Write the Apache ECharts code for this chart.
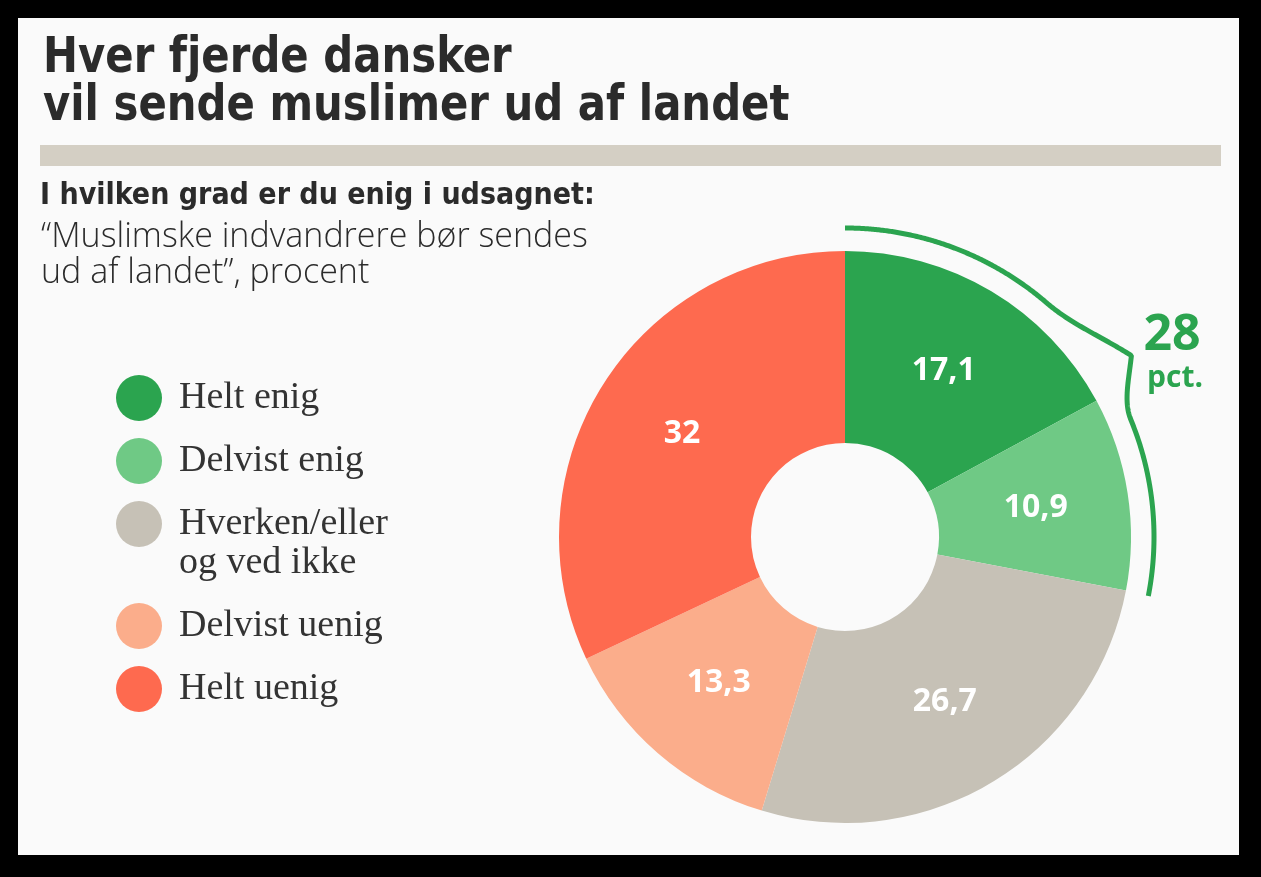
<!DOCTYPE html>
<html>
<head>
    <meta charset="utf-8">
    <title>Hver fjerde dansker</title>
    <script src="https://cdn.jsdelivr.net/npm/echarts@6.0.0/dist/echarts.min.js"></script>
    <style>
        html, body { margin: 0; padding: 0; background: #000; }
        #main { width: 1261px; height: 877px; }
    </style>
</head>
<body>
<div id="main"></div>
<script>
    // data
    var categories = ['Helt enig', 'Delvist enig', 'Hverken/eller\nog ved ikke', 'Delvist uenig', 'Helt uenig'];
    var values = [17.1, 10.9, 26.7, 13.3, 32];
    var colors = ['#2ba44f', '#6fc985', '#c6c1b6', '#fbad8b', '#fe6a4f'];
    var agreeCount = 2; // first two slices are the "enig" group

    var cx = 845, cy = 537, rIn = 94, rOut = 286;

    function fmt(v) {
        return String(v).replace('.', ',');
    }

    // curly bracket around the agreeing slices, built from the data
    var total = values.reduce(function (a, b) { return a + b; }, 0);
    var agreeSum = 0;
    for (var i = 0; i < agreeCount; i++) agreeSum += values[i];
    var endDeg = agreeSum / total * 360;
    var tipDeg = endDeg * 0.572;
    var upSpan = 17, downSpan = 10;
    var R = 309, bump = 30;
    var pts = [];
    for (var d = 0; d <= endDeg + 0.4; d += 0.25) {
        var r = R;
        if (d > tipDeg - upSpan && d <= tipDeg) {
            var t = (d - (tipDeg - upSpan)) / upSpan;
            r = R + bump * (1 - Math.cos(Math.PI * t / 2));
        } else if (d > tipDeg && d < tipDeg + downSpan) {
            var t2 = ((tipDeg + downSpan) - d) / downSpan;
            r = R + bump * (1 - Math.cos(Math.PI * t2 / 2));
        }
        var a = d * Math.PI / 180;
        pts.push([cx + r * Math.sin(a), cy - r * Math.cos(a)]);
    }

    var sansBold = "'DejaVu Sans Condensed', 'DejaVu Sans', sans-serif";
    var legendText = {
        fontFamily: "'Liberation Serif', serif",
        fontSize: 38,
        color: '#333',
        padding: [0, 0, 0, 12]
    };
    function legendBlock(names, top) {
        return {
            orient: 'vertical',
            left: 116,
            top: top,
            padding: 0,
            icon: 'circle',
            itemWidth: 46,
            itemHeight: 46,
            itemGap: 17,
            selectedMode: false,
            textStyle: legendText,
            // only the first line sits next to the dot
            formatter: function (name) { return name.split('\n')[0]; },
            data: names
        };
    }

    var myChart = echarts.init(document.getElementById('main'));

    var option = {
        backgroundColor: '#000',
        animation: false,
        legend: [
            legendBlock(categories.slice(0, 3), 375),
            legendBlock(categories.slice(3), 603)
        ],
        graphic: [{
            type: 'rect',
            z: -10,
            shape: { x: 18, y: 18, width: 1221, height: 837 },
            style: { fill: '#fafafa' }
        }, {
            type: 'rect',
            shape: { x: 40, y: 145, width: 1181, height: 21 },
            style: { fill: '#d4cfc4' }
        }, {
            // headline
            type: 'text',
            x: 43,
            y: 35,
            scaleX: 0.93,
            style: {
                text: 'Hver fjerde dansker\nvil sende muslimer ud af landet',
                fill: '#2b2b2b',
                fontFamily: sansBold,
                fontWeight: 'bold',
                fontSize: 50,
                lineHeight: 48,
                align: 'left',
                verticalAlign: 'top'
            }
        }, {
            type: 'text',
            x: 40,
            y: 196,
            style: {
                text: 'I hvilken grad er du enig i udsagnet:',
                fill: '#2b2b2b',
                fontFamily: sansBold,
                fontWeight: 'bold',
                fontSize: 30,
                align: 'left',
                verticalAlign: 'middle'
            }
        }, {
            type: 'text',
            x: 41,
            y: 219.5,
            style: {
                text: '\u201cMuslimske indvandrere b\u00f8r sendes\nud af landet\u201d, procent',
                fill: '#2b2b2b',
                fontFamily: '"Open Sans", Lato, sans-serif',
                fontWeight: 300,
                fontSize: 34,
                lineHeight: 36,
                align: 'left',
                verticalAlign: 'top'
            }
        }, {
            // second line of the two-line legend entry
            type: 'text',
            x: 179,
            y: 563,
            style: {
                text: categories[2].split('\n')[1],
                fill: legendText.color,
                fontFamily: legendText.fontFamily,
                fontSize: legendText.fontSize,
                align: 'left',
                verticalAlign: 'middle'
            }
        }, {
            type: 'polyline',
            shape: { points: pts },
            style: { stroke: '#2ba44f', lineWidth: 5, fill: null }
        }, {
            type: 'text',
            x: 1172,
            y: 336,
            style: {
                text: String(Math.round(agreeSum)),
                fill: '#2ba44f',
                fontFamily: '"Open Sans", sans-serif',
                fontWeight: 'bold',
                fontSize: 50,
                align: 'center',
                verticalAlign: 'middle'
            }
        }, {
            type: 'text',
            x: 1175,
            y: 378,
            style: {
                text: 'pct.',
                fill: '#2ba44f',
                fontFamily: '"Open Sans", sans-serif',
                fontWeight: 'bold',
                fontSize: 30,
                align: 'center',
                verticalAlign: 'middle'
            }
        }],
        series: [{
            type: 'pie',
            center: [cx, cy],
            radius: [rIn, rOut],
            startAngle: 90,
            clockwise: true,
            avoidLabelOverlap: false,
            emphasis: { disabled: true },
            label: {
                show: true,
                position: 'inside',
                color: '#fff',
                fontFamily: '"Open Sans", sans-serif',
                fontWeight: 'bold',
                fontSize: 32,
                formatter: function (p) { return fmt(p.value); }
            },
            labelLine: { show: false },
            data: categories.map(function (c, i) {
                return { name: c, value: values[i], itemStyle: { color: colors[i] } };
            })
        }]
    };

    myChart.setOption(option);
</script>
</body>
</html>
